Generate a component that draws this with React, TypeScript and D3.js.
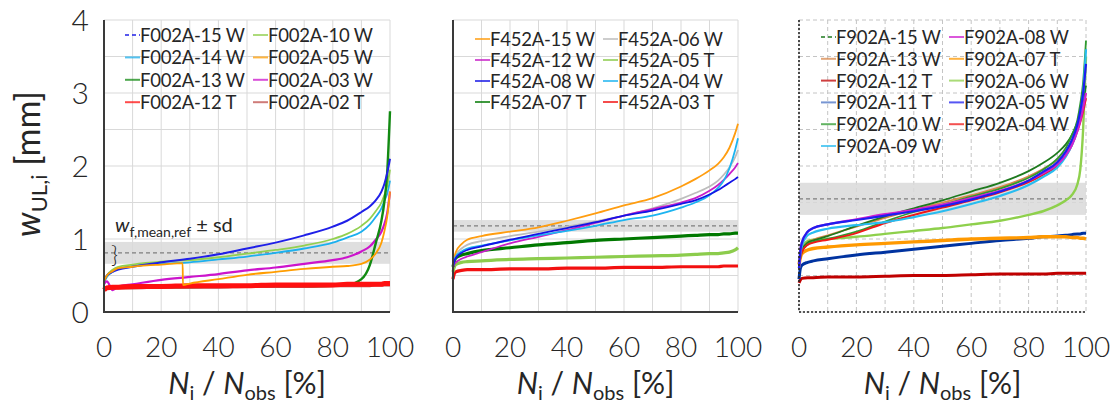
import React from "react";
import * as d3 from "d3";

// ---------- DATA ----------
const xTicks = [0, 20, 40, 60, 80, 100];
const yTicks = [0, 1, 2, 3, 4];

// Panel 1 (F002A)
const p1X = [0, 1, 3, 5, 10, 20, 30, 40, 50, 60, 70, 80, 85, 90, 93, 95, 97, 98, 99, 100];
const f002a15w = [0.42, 0.5, 0.55, 0.58, 0.62, 0.68, 0.73, 0.79, 0.87, 0.95, 1.05, 1.17, 1.25, 1.37, 1.45, 1.53, 1.65, 1.75, 1.9, 2.1];
const f002a14w = [0.4, 0.48, 0.55, 0.59, 0.63, 0.66, 0.68, 0.72, 0.76, 0.81, 0.87, 0.95, 1.02, 1.1, 1.2, 1.3, 1.42, 1.52, 1.62, 1.8];
const f002a13w = [0.33, 0.33, 0.33, 0.33, 0.34, 0.34, 0.34, 0.35, 0.35, 0.35, 0.35, 0.36, 0.37, 0.45, 0.65, 0.94, 1.25, 1.5, 1.9, 2.75];
const f002a12t = [0.3, 0.33, 0.34, 0.34, 0.35, 0.35, 0.36, 0.36, 0.36, 0.37, 0.37, 0.37, 0.38, 0.38, 0.38, 0.38, 0.38, 0.39, 0.39, 0.39];
const f002a10w = [0.42, 0.5, 0.58, 0.62, 0.65, 0.69, 0.71, 0.75, 0.8, 0.85, 0.91, 1.0, 1.07, 1.18, 1.28, 1.38, 1.5, 1.6, 1.72, 1.95];
const f002a05wX = [0, 1, 3, 5, 10, 15, 20, 27.5, 27.6, 30, 40, 50, 60, 70, 80, 85, 90, 93, 95, 97, 98, 99, 100];
const f002a05w = [0.42, 0.5, 0.56, 0.6, 0.62, 0.64, 0.65, 0.67, 0.37, 0.39, 0.45, 0.51, 0.55, 0.59, 0.62, 0.63, 0.66, 0.72, 0.8, 0.95, 1.1, 1.3, 1.65];
const f002a03w = [0.38, 0.42, 0.3, 0.35, 0.38, 0.44, 0.48, 0.52, 0.57, 0.61, 0.66, 0.71, 0.75, 0.83, 0.9, 0.99, 1.1, 1.2, 1.35, 1.65];
const f002a02t = [0.31, 0.32, 0.33, 0.33, 0.33, 0.34, 0.34, 0.34, 0.35, 0.35, 0.35, 0.36, 0.36, 0.36, 0.36, 0.37, 0.37, 0.37, 0.37, 0.37];
const p1Ref = [0.81, 0.15];

// Panel 2 (F452A)
const p2X = [0, 0.5, 1, 3, 5, 10, 20, 30, 40, 50, 60, 70, 80, 85, 90, 93, 95, 97, 99, 100];
const f452a15w = [0.62, 0.75, 0.82, 0.93, 0.99, 1.04, 1.1, 1.16, 1.25, 1.35, 1.46, 1.56, 1.72, 1.82, 1.94, 2.03, 2.12, 2.25, 2.45, 2.58];
const f452a12w = [0.6, 0.66, 0.68, 0.73, 0.76, 0.82, 0.94, 1.03, 1.12, 1.22, 1.32, 1.41, 1.5, 1.56, 1.66, 1.74, 1.81, 1.89, 1.98, 2.04];
const f452a08w = [0.62, 0.7, 0.74, 0.81, 0.85, 0.9, 0.99, 1.07, 1.15, 1.23, 1.32, 1.39, 1.48, 1.53, 1.61, 1.67, 1.72, 1.77, 1.82, 1.85];
const f452a07t = [0.62, 0.7, 0.74, 0.78, 0.8, 0.84, 0.88, 0.92, 0.95, 0.98, 1.0, 1.02, 1.04, 1.05, 1.06, 1.06, 1.07, 1.07, 1.08, 1.08];
const f452a06w = [0.62, 0.72, 0.78, 0.87, 0.92, 0.97, 1.04, 1.1, 1.17, 1.24, 1.32, 1.42, 1.55, 1.63, 1.72, 1.8, 1.88, 1.98, 2.12, 2.22];
const f452a05t = [0.55, 0.62, 0.65, 0.68, 0.69, 0.7, 0.72, 0.73, 0.74, 0.75, 0.76, 0.77, 0.78, 0.79, 0.8, 0.8, 0.81, 0.82, 0.85, 0.88];
const f452a04w = [0.62, 0.72, 0.76, 0.83, 0.87, 0.91, 0.98, 1.05, 1.11, 1.18, 1.26, 1.32, 1.43, 1.5, 1.6, 1.7, 1.8, 1.97, 2.22, 2.38];
const f452a03t = [0.45, 0.53, 0.55, 0.57, 0.58, 0.58, 0.59, 0.59, 0.6, 0.6, 0.61, 0.61, 0.62, 0.62, 0.62, 0.62, 0.63, 0.63, 0.63, 0.63];
const p2Ref = [1.18, 0.08];

// Panel 3 (F902A)
const p3X = [0, 0.5, 1, 3, 5, 10, 20, 30, 40, 50, 60, 70, 80, 85, 90, 93, 95, 97, 98, 99, 100];
const f902a15w = [0.6, 0.78, 0.85, 0.95, 0.98, 1.04, 1.18, 1.31, 1.42, 1.53, 1.65, 1.77, 1.93, 2.04, 2.18, 2.3, 2.42, 2.6, 2.72, 2.88, 3.1];
const f902a13w = [0.6, 0.78, 0.85, 0.95, 0.99, 1.05, 1.17, 1.29, 1.4, 1.5, 1.6, 1.71, 1.86, 1.96, 2.08, 2.2, 2.33, 2.52, 2.65, 2.8, 3.0];
const f902a12t = [0.4, 0.44, 0.46, 0.47, 0.47, 0.48, 0.48, 0.49, 0.5, 0.5, 0.51, 0.52, 0.52, 0.52, 0.53, 0.53, 0.53, 0.53, 0.53, 0.53, 0.53];
const f902a11t = [0.45, 0.6, 0.64, 0.68, 0.7, 0.73, 0.78, 0.82, 0.86, 0.9, 0.94, 0.98, 1.01, 1.03, 1.04, 1.05, 1.06, 1.07, 1.07, 1.08, 1.08];
const f902a10w = [0.6, 0.75, 0.82, 0.93, 0.96, 1.0, 1.1, 1.24, 1.37, 1.47, 1.58, 1.69, 1.84, 1.95, 2.1, 2.25, 2.42, 2.63, 2.85, 3.15, 3.72];
const f902a09w = [0.6, 0.8, 0.9, 1.05, 1.09, 1.14, 1.19, 1.23, 1.3, 1.38, 1.48, 1.59, 1.74, 1.85, 1.98, 2.13, 2.28, 2.5, 2.7, 3.0, 3.6];
const f902a08w = [0.6, 0.85, 0.95, 1.1, 1.15, 1.2, 1.27, 1.34, 1.4, 1.47, 1.56, 1.66, 1.8, 1.9, 2.02, 2.15, 2.28, 2.48, 2.62, 2.8, 3.0];
const f902a07t = [0.65, 0.75, 0.8, 0.85, 0.87, 0.89, 0.92, 0.94, 0.96, 0.98, 1.0, 1.01, 1.02, 1.03, 1.03, 1.03, 1.02, 1.02, 1.01, 1.01, 1.0];
const f902a06w = [0.6, 0.8, 0.88, 0.97, 0.99, 1.0, 1.03, 1.07, 1.11, 1.15, 1.2, 1.25, 1.33, 1.38, 1.46, 1.53, 1.6, 1.75, 1.95, 2.5, 3.5];
const f902a05w = [0.6, 0.85, 0.95, 1.1, 1.15, 1.2, 1.26, 1.32, 1.38, 1.45, 1.54, 1.65, 1.8, 1.92, 2.05, 2.2, 2.35, 2.57, 2.75, 3.0, 3.4];
const f902a04w = [0.6, 0.75, 0.82, 0.92, 0.95, 0.99, 1.08, 1.22, 1.33, 1.43, 1.53, 1.64, 1.78, 1.88, 2.0, 2.14, 2.28, 2.48, 2.6, 2.75, 2.93];
const p3Ref = [1.55, 0.22];

// Legend labels (column-major order)
const p1Legend = ["F002A-15 W", "F002A-14 W", "F002A-13 W", "F002A-12 T", "F002A-10 W", "F002A-05 W", "F002A-03 W", "F002A-02 T"];
const p2Legend = ["F452A-15 W", "F452A-12 W", "F452A-08 W", "F452A-07 T", "F452A-06 W", "F452A-05 T", "F452A-04 W", "F452A-03 T"];
const p3Legend = ["F902A-15 W", "F902A-13 W", "F902A-12 T", "F902A-11 T", "F902A-10 W", "F902A-09 W", "F902A-08 W", "F902A-07 T", "F902A-06 W", "F902A-05 W", "F902A-04 W"];

// ---------- STYLES ----------
type St = { color: string; legend?: string; width: number; dash?: string };
const styles: Record<string, St> = {
  "F002A-15 W": { color: "#1f1fe8", width: 2, dash: "5,4" },
  "F002A-14 W": { color: "#1cb0ee", width: 1.8 },
  "F002A-13 W": { color: "#128a12", width: 2.4 },
  "F002A-12 T": { color: "#ff1010", width: 5 },
  "F002A-10 W": { color: "#92d050", width: 1.8 },
  "F002A-05 W": { color: "#ff9d00", width: 1.8 },
  "F002A-03 W": { color: "#cc14cc", width: 2.2 },
  "F002A-02 T": { color: "#c0504d", width: 3 },
  "F452A-15 W": { color: "#ff9d10", width: 1.8 },
  "F452A-12 W": { color: "#c81ec8", width: 1.8 },
  "F452A-08 W": { color: "#1414e6", width: 1.8 },
  "F452A-07 T": { color: "#007800", width: 3.2 },
  "F452A-06 W": { color: "#bdbdbd", width: 1.8 },
  "F452A-05 T": { color: "#8ccc4c", width: 3.2 },
  "F452A-04 W": { color: "#1cb4f0", width: 1.8 },
  "F452A-03 T": { color: "#f21010", width: 3.2 },
  "F902A-15 W": { color: "#1e7a1e", width: 1.8, dash: "5,4" },
  "F902A-13 W": { color: "#d9884c", width: 1.8 },
  "F902A-12 T": { color: "#c00000", width: 3 },
  "F902A-11 T": { color: "#0033a0", width: 3, legend: "#4a72c4" },
  "F902A-10 W": { color: "#2e9a2e", width: 1.8 },
  "F902A-09 W": { color: "#28bcf0", width: 2.2 },
  "F902A-08 W": { color: "#d020d0", width: 2.2 },
  "F902A-07 T": { color: "#ff9900", width: 3.4 },
  "F902A-06 W": { color: "#8ed04c", width: 2.4 },
  "F902A-05 W": { color: "#1e1ef0", width: 2.2 },
  "F902A-04 W": { color: "#f01818", width: 2 },
};

type Series = { name: string; xs: number[]; ys: number[] };

const panel1: Series[] = [
  { name: "F002A-14 W", xs: p1X, ys: f002a14w },
  { name: "F002A-10 W", xs: p1X, ys: f002a10w },
  { name: "F002A-03 W", xs: p1X, ys: f002a03w },
  { name: "F002A-13 W", xs: p1X, ys: f002a13w },
  { name: "F002A-15 W", xs: p1X, ys: f002a15w },
  { name: "F002A-02 T", xs: p1X, ys: f002a02t },
  { name: "F002A-12 T", xs: p1X, ys: f002a12t },
  { name: "F002A-05 W", xs: f002a05wX, ys: f002a05w },
];
const panel2: Series[] = [
  { name: "F452A-03 T", xs: p2X, ys: f452a03t },
  { name: "F452A-05 T", xs: p2X, ys: f452a05t },
  { name: "F452A-07 T", xs: p2X, ys: f452a07t },
  { name: "F452A-06 W", xs: p2X, ys: f452a06w },
  { name: "F452A-15 W", xs: p2X, ys: f452a15w },
  { name: "F452A-12 W", xs: p2X, ys: f452a12w },
  { name: "F452A-04 W", xs: p2X, ys: f452a04w },
  { name: "F452A-08 W", xs: p2X, ys: f452a08w },
];
const panel3: Series[] = [
  { name: "F902A-12 T", xs: p3X, ys: f902a12t },
  { name: "F902A-11 T", xs: p3X, ys: f902a11t },
  { name: "F902A-07 T", xs: p3X, ys: f902a07t },
  { name: "F902A-06 W", xs: p3X, ys: f902a06w },
  { name: "F902A-13 W", xs: p3X, ys: f902a13w },
  { name: "F902A-15 W", xs: p3X, ys: f902a15w },
  { name: "F902A-10 W", xs: p3X, ys: f902a10w },
  { name: "F902A-04 W", xs: p3X, ys: f902a04w },
  { name: "F902A-09 W", xs: p3X, ys: f902a09w },
  { name: "F902A-08 W", xs: p3X, ys: f902a08w },
  { name: "F902A-05 W", xs: p3X, ys: f902a05w },
];

// ---------- LAYOUT ----------
const W = 1117;
const H = 411;
const yTop = 20;
const yBot = 312;
const FONT = "Lato, 'Open Sans', sans-serif";
const TXT = "#262626";

const yScale = d3.scaleLinear().domain([0, 4]).range([yBot, yTop]);

type PanelDef = {
  x0: number;
  x1: number;
  series: Series[];
  legend: string[];
  ref: number[];
  dashedGrid: boolean;
  legendCols: number[];
  legendY0: number;
  legendDy: number;
  rows: number;
};

const panels: PanelDef[] = [
  { x0: 104, x1: 390, series: panel1, legend: p1Legend, ref: p1Ref, dashedGrid: false, legendCols: [125, 253], legendY0: 35, legendDy: 22.4, rows: 4 },
  { x0: 453, x1: 738, series: panel2, legend: p2Legend, ref: p2Ref, dashedGrid: false, legendCols: [475, 603], legendY0: 39, legendDy: 21, rows: 4 },
  { x0: 799, x1: 1086, series: panel3, legend: p3Legend, ref: p3Ref, dashedGrid: true, legendCols: [821, 949], legendY0: 37, legendDy: 21.8, rows: 6 },
];

function Panel({ p }: { p: PanelDef }) {
  const x = d3.scaleLinear().domain([0, 100]).range([p.x0, p.x1]);
  const gridX = d3.range(0, 101, 10);
  const gridY = d3.range(0, 4.01, 0.5);
  const gridStroke = p.dashedGrid ? "#c4c4c4" : "#d9d9d9";
  const gridDash = p.dashedGrid ? "4,3" : undefined;
  const [mean, sd] = p.ref;
  return (
    <g>
      {gridX.map((v) => (
        <line key={"gx" + v} x1={x(v)} x2={x(v)} y1={yTop} y2={yBot} stroke={gridStroke} strokeWidth={1} strokeDasharray={gridDash} />
      ))}
      {gridY.map((v) => (
        <line key={"gy" + v} x1={p.x0} x2={p.x1} y1={yScale(v)} y2={yScale(v)} stroke={gridStroke} strokeWidth={1} strokeDasharray={gridDash} />
      ))}
      <rect x={p.x0} width={p.x1 - p.x0} y={yScale(mean + sd)} height={yScale(mean - sd) - yScale(mean + sd)} fill="#d9d9d9" opacity={0.85} />
      <line x1={p.x0} x2={p.x1} y1={yScale(mean)} y2={yScale(mean)} stroke="#7f7f7f" strokeWidth={1.2} strokeDasharray="4,3" />
      {p.series.map((s) => {
        const st = styles[s.name];
        const line = d3
          .line<number>()
          .x((_, i) => x(s.xs[i]))
          .y((d) => yScale(d))
          .curve(d3.curveMonotoneX);
        return (
          <path key={s.name} d={line(s.ys) || ""} fill="none" stroke={st.color} strokeWidth={st.width} strokeLinejoin="round" />
        );
      })}
      {p.dashedGrid ? (
        <g>
          <line x1={p.x0} x2={p.x0} y1={yTop} y2={yBot} stroke="#222" strokeWidth={1.6} strokeDasharray="2,2" />
          <line x1={p.x0} x2={p.x1} y1={yBot} y2={yBot} stroke="#222" strokeWidth={1.6} strokeDasharray="2,2" />
        </g>
      ) : (
        <g>
          <line x1={p.x0} x2={p.x0} y1={yTop} y2={yBot + 1} stroke="#3a3a3a" strokeWidth={2} />
          <line x1={p.x0 - 1} x2={p.x1} y1={yBot} y2={yBot} stroke="#3a3a3a" strokeWidth={2} />
        </g>
      )}
      {xTicks.map((v) => (
        <text key={"xt" + v} x={x(v)} y={357} textAnchor="middle" fontFamily={FONT} fontWeight={300} fontSize={28} fill={TXT}>
          {v}
        </text>
      ))}
      <text x={(p.x0 + p.x1) / 2} y={394} textAnchor="middle" fontFamily={FONT} fontSize={30} fill={TXT}>
        <tspan fontStyle="italic">N</tspan>
        <tspan fontSize={20} dy={6}>i</tspan>
        <tspan dy={-6}> / </tspan>
        <tspan fontStyle="italic">N</tspan>
        <tspan fontSize={20} dy={6}>obs</tspan>
        <tspan dy={-6}> [%]</tspan>
      </text>
      {p.legend.map((name, i) => {
        const col = Math.floor(i / p.rows);
        const row = i % p.rows;
        const lx = p.legendCols[col];
        const ly = p.legendY0 + row * p.legendDy;
        const st = styles[name];
        return (
          <g key={"lg" + name}>
            <line x1={lx} x2={lx + 15} y1={ly} y2={ly} stroke={st.legend || st.color} strokeWidth={2} strokeDasharray={st.dash ? "4,3" : undefined} opacity={0.75} />
            <text x={lx + 15} y={ly} dominantBaseline="central" fontFamily={FONT} fontSize={18.5} letterSpacing={-0.25} fill={TXT}>
              {name}
            </text>
          </g>
        );
      })}
    </g>
  );
}

export default function App() {
  return (
    <svg width={W} height={H} style={{ position: "absolute", left: 0, top: 0, background: "#fff" }}>
      <rect x={0} y={0} width={W} height={H} fill="#fff" />
      {panels.map((p, i) => (
        <Panel key={i} p={p} />
      ))}
      {yTicks.map((v) => (
        <text key={"yt" + v} x={89} y={yScale(v)} dy={-1} textAnchor="end" dominantBaseline="central" fontFamily={FONT} fontWeight={300} fontSize={30} fill={TXT}>
          {v}
        </text>
      ))}
      <text transform="translate(40,164) rotate(-90)" textAnchor="middle" fontFamily={FONT} fontSize={34} fill={TXT}>
        <tspan fontStyle="italic">w</tspan>
        <tspan fontSize={22} dy={7}>UL,i</tspan>
        <tspan dy={-7}> [mm]</tspan>
      </text>
      <text x={115} y={232} fontFamily={FONT} fontSize={20} fill={TXT}>
        <tspan fontStyle="italic">w</tspan>
        <tspan fontSize={14} dy={5}>f,mean,ref</tspan>
        <tspan dy={-5}> ± sd</tspan>
      </text>
      <text x={111} y={253} dominantBaseline="central" fontFamily={FONT} fontWeight={300} fontSize={24} fill={TXT}>
        {"}"}
      </text>
    </svg>
  );
}
